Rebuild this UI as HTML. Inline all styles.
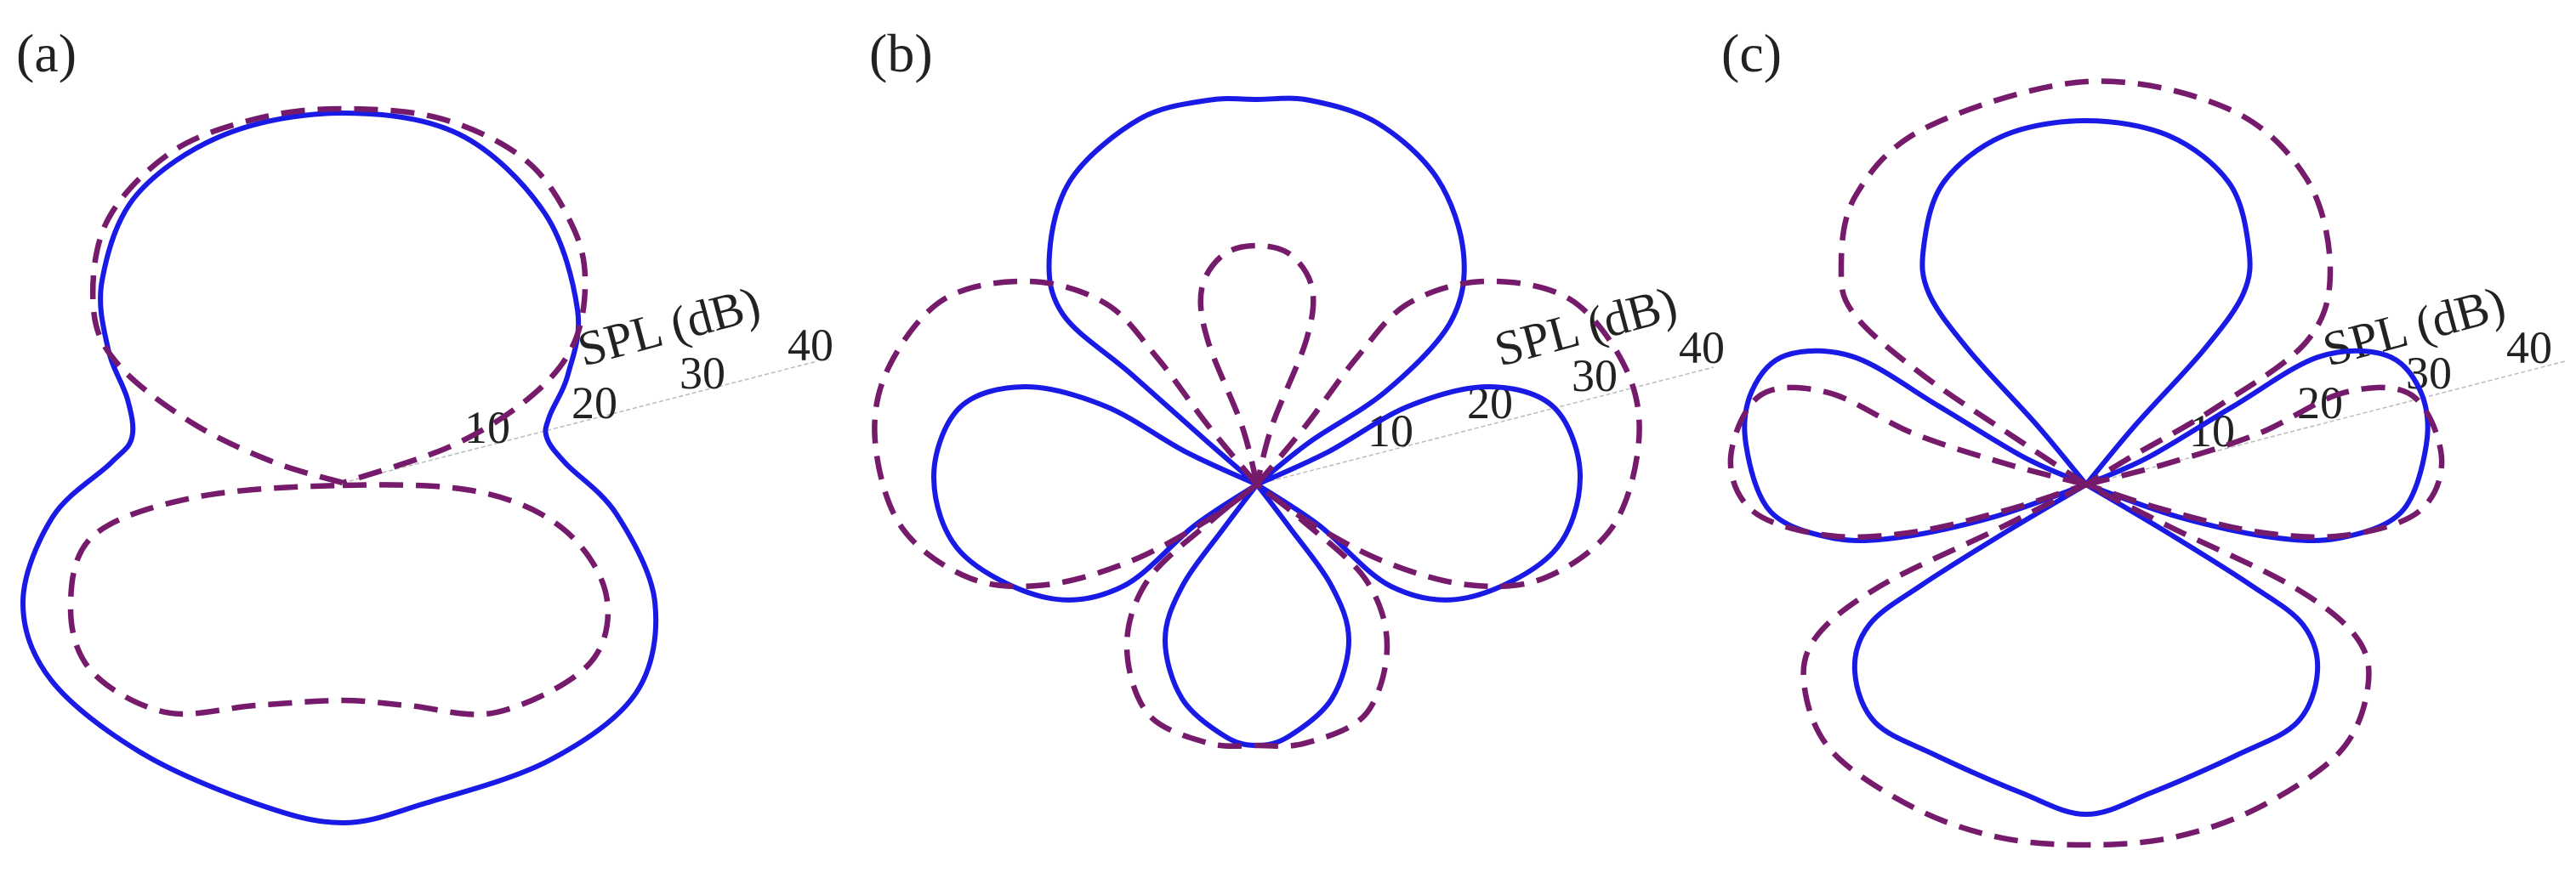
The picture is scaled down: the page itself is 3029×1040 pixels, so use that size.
<!DOCTYPE html>
<html><head><meta charset="utf-8">
<style>
html,body{margin:0;padding:0;background:#fff;}
svg{display:block;}
text{font-family:"Liberation Serif",serif;fill:#222;}
.b{fill:none;stroke:#1a1ae6;stroke-width:6;stroke-linejoin:round;}
.d{fill:none;stroke:#761a6c;stroke-width:6.5;stroke-dasharray:28 15;stroke-linejoin:round;}
.ax{stroke:#bbb;stroke-width:1.5;stroke-dasharray:5 3;}
</style></head><body>
<svg id="s" width="3029" height="1040" viewBox="0 0 3029 1040" xmlns="http://www.w3.org/2000/svg">
<text x="19" y="84" font-size="64">(a)</text>
<text x="1022" y="84" font-size="64">(b)</text>
<text x="2024" y="84" font-size="64">(c)</text>
<line class="ax" x1="403" y1="568" x2="961" y2="425"/>
<line class="ax" x1="1478" y1="570" x2="2015" y2="432"/>
<line class="ax" x1="2453" y1="570" x2="3016" y2="425"/>
<g font-size="54">
<text x="546" y="521">10</text><text x="672" y="492">20</text><text x="799" y="457">30</text><text x="926" y="424">40</text>
<text x="686" y="431" transform="rotate(-15 686 431)" font-size="58">SPL (dB)</text>
<text x="1608" y="525">10</text><text x="1725" y="492">20</text><text x="1848" y="460">30</text><text x="1974" y="427">40</text>
<text x="1764" y="431" transform="rotate(-15 1764 431)" font-size="58">SPL (dB)</text>
<text x="2574" y="525">10</text><text x="2701" y="492">20</text><text x="2829" y="457">30</text><text x="2947" y="427">40</text>
<text x="2738" y="431" transform="rotate(-15 2738 431)" font-size="58">SPL (dB)</text>
</g>
<g id="g"></g>
</svg>
<script>
function cr(p,closed){
  var n=p.length,d="M"+p[0][0]+","+p[0][1];
  var get=function(i){ if(closed) return p[(i+n)%n]; return p[Math.max(0,Math.min(n-1,i))]; };
  var m=closed?n:n-1;
  for(var i=0;i<m;i++){
    var p0=get(i-1),p1=get(i),p2=get(i+1),p3=get(i+2);
    if(!closed){ if(i==0)p0=p1; if(i==n-2)p3=p2; }
    var c1=[p1[0]+(p2[0]-p0[0])/6,p1[1]+(p2[1]-p0[1])/6];
    var c2=[p2[0]-(p3[0]-p1[0])/6,p2[1]-(p3[1]-p1[1])/6];
    d+="C"+c1[0].toFixed(1)+","+c1[1].toFixed(1)+" "+c2[0].toFixed(1)+","+c2[1].toFixed(1)+" "+p2[0]+","+p2[1];
  }
  if(closed)d+="Z";
  return d;
}
function mir(p,cx){return p.map(function(q){return [2*cx-q[0],q[1]];});}
function sym(half,cx){
  var r=mir(half.slice(0,-1),cx).reverse();
  return half.concat(r);
}
var g=document.getElementById('g'),out="";
function add(cls,p,closed){out+='<path class="'+cls+'" d="'+cr(p,closed)+'"/>';}
// (a)
add('b',[[403,133],[540,158],[640,250],[679,364],[668,440],[646,490],[643,515],[665,545],[725,605],[770,708],[748,815],[645,895],[500,945],[403,968],[300,945],[165,885],[60,800],[27,708],[62,608],[130,545],[155,515],[150,470],[127,410],[120,330],[160,230],[265,158]],true);
add('d',[[403,568],[320,543],[225,497],[140,430],[110,364],[125,262],[200,180],[300,140],[403,128],[520,140],[620,190],[675,270],[688,338],[672,410],[620,470],[530,525],[403,568]],false);
add('d',[[403,571],[560,578],[662,622],[713,701],[692,782],[584,838],[480,830],[403,824],[300,830],[195,838],[108,790],[83,714],[110,630],[230,585]],true);
// (b)
var cb=1478;
add('b',[[1478,570],[1420,520],[1330,440],[1250,370],[1234,299],[1260,210],[1340,140],[1420,118],[1478,117],[1540,118],[1620,145],[1690,210],[1721,299],[1705,380],[1630,460],[1540,520],[1478,570]],false);
var bl=[[1478,570],[1395,532],[1300,478],[1205,455],[1128,480],[1098,562],[1130,650],[1230,703],[1320,690],[1405,618],[1478,570]];
add('b',bl,false); add('b',mir(bl,cb),false);
add('b',sym([[1478,570],[1440,620],[1390,690],[1370,753],[1390,822],[1440,866],[1478,877]],cb),false);
add('d',sym([[1478,570],[1460,500],[1420,400],[1413,340],[1438,300],[1478,289]],cb),false);
var dl=[[1478,570],[1420,500],[1360,420],[1300,357],[1210,331],[1110,352],[1045,432],[1029,519],[1060,620],[1140,680],[1230,688],[1330,660],[1420,612],[1478,570]];
add('d',dl,false); add('d',mir(dl,cb),false);
add('d',sym([[1478,570],[1425,612],[1350,682],[1325,760],[1350,840],[1420,874],[1478,877]],cb),false);
// (c)
var cc=2453;
add('b',sym([[2453,570],[2395,500],[2315,412],[2268,345],[2262,290],[2285,215],[2355,160],[2453,142]],cc),false);
var cl=[[2453,570],[2380,538],[2280,478],[2180,420],[2100,418],[2060,460],[2053,523],[2082,602],[2155,633],[2235,632],[2345,608],[2453,570]];
add('b',cl,false); add('b',mir(cl,cc),false);
add('b',sym([[2453,570],[2360,625],[2260,688],[2198,735],[2181,790],[2205,850],[2275,888],[2375,932],[2453,958]],cc),false);
add('d',[[2453,570],[2380,522],[2262,442],[2182,372],[2165,318],[2182,230],[2265,150],[2453,96],[2620,128],[2712,210],[2740,318],[2712,402],[2605,480],[2505,538],[2453,570]],false);
var dcl=[[2453,570],[2360,546],[2250,510],[2150,462],[2070,465],[2035,539],[2062,602],[2150,630],[2250,626],[2360,600],[2453,570]];
add('d',dcl,false); add('d',mir(dcl,cc),false);
add('d',sym([[2453,570],[2350,622],[2210,690],[2135,750],[2122,810],[2155,885],[2250,950],[2350,985],[2453,994]],cc),false);
g.innerHTML=out;
</script>
</body></html>
